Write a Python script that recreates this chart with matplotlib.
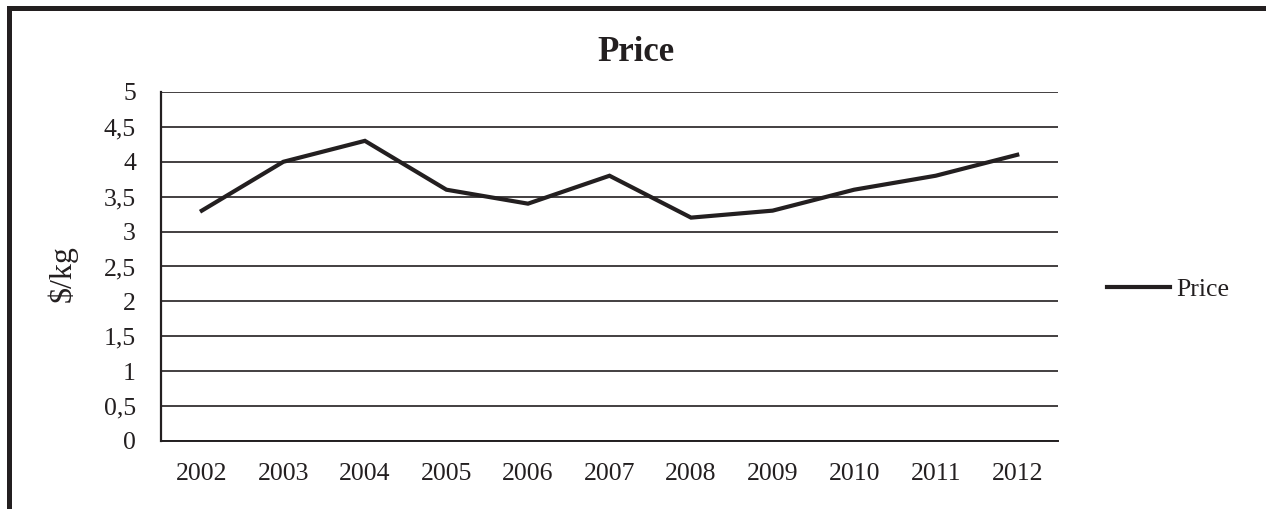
import numpy as np
import matplotlib.pyplot as plt
from matplotlib.lines import Line2D

plt.rcParams['font.family'] = ['Liberation Serif', 'DejaVu Serif']

years = ['2002', '2003', '2004', '2005', '2006', '2007', '2008', '2009', '2010', '2011', '2012']
price = [3.3, 4.0, 4.3, 3.6, 3.4, 3.8, 3.2, 3.3, 3.6, 3.8, 4.1]
yticks = [0, 0.5, 1, 1.5, 2, 2.5, 3, 3.5, 4, 4.5, 5]
ytick_labels = ['0', '0,5', '1', '1,5', '2', '2,5', '3', '3,5', '4', '4,5', '5']

ink = '#231f20'

fig = plt.figure(figsize=(12.66, 5.09), dpi=100)
ax = fig.add_axes([0.1272, 0.1336, 0.7085, 0.6857])

x = np.arange(len(years))
ax.plot(x, price, color=ink, lw=3.0, solid_joinstyle='miter', label='Price', zorder=3)

ax.set_xlim(-0.5, len(years) - 0.5)
ax.set_ylim(0, 5)
ax.set_yticks(yticks)
ax.set_yticklabels(ytick_labels)
ax.set_xticks(x)
ax.set_xticklabels(years)
ax.tick_params(axis='both', length=0, labelsize=18.5, colors=ink)
ax.tick_params(axis='y', pad=18)
ax.tick_params(axis='x', pad=16)

ax.grid(axis='y', color=ink, lw=1.2)
ax.set_axisbelow(True)
for side in ['top', 'right']:
    ax.spines[side].set_visible(False)
ax.spines['left'].set_color(ink)
ax.spines['left'].set_linewidth(1.6)
ax.spines['bottom'].set_color(ink)
ax.spines['bottom'].set_linewidth(1.4)

fig.text(0.502, 0.896, 'Price', ha='center', va='center', fontsize=25,
         fontweight='bold', color=ink)
fig.text(0.049, 0.462, '$/kg', ha='center', va='center', rotation=90,
         fontsize=23, color=ink)

ax.legend(loc='center left', bbox_to_anchor=(0.8744, 0.432),
          bbox_transform=fig.transFigure, frameon=False, borderpad=0,
          borderaxespad=0, handlelength=2.45, handletextpad=0.25,
          fontsize=18.5, labelcolor=ink)

# frame around the chart: left and top edges only
fig.add_artist(Line2D([0.0069, 0.0069], [0.0, 0.984], transform=fig.transFigure,
                      color=ink, lw=3.6, solid_capstyle='projecting'))
fig.add_artist(Line2D([0.0069, 1.0], [0.984, 0.984], transform=fig.transFigure,
                      color=ink, lw=3.6, solid_capstyle='projecting'))

fig.savefig('out.png', dpi=100, facecolor='white')
